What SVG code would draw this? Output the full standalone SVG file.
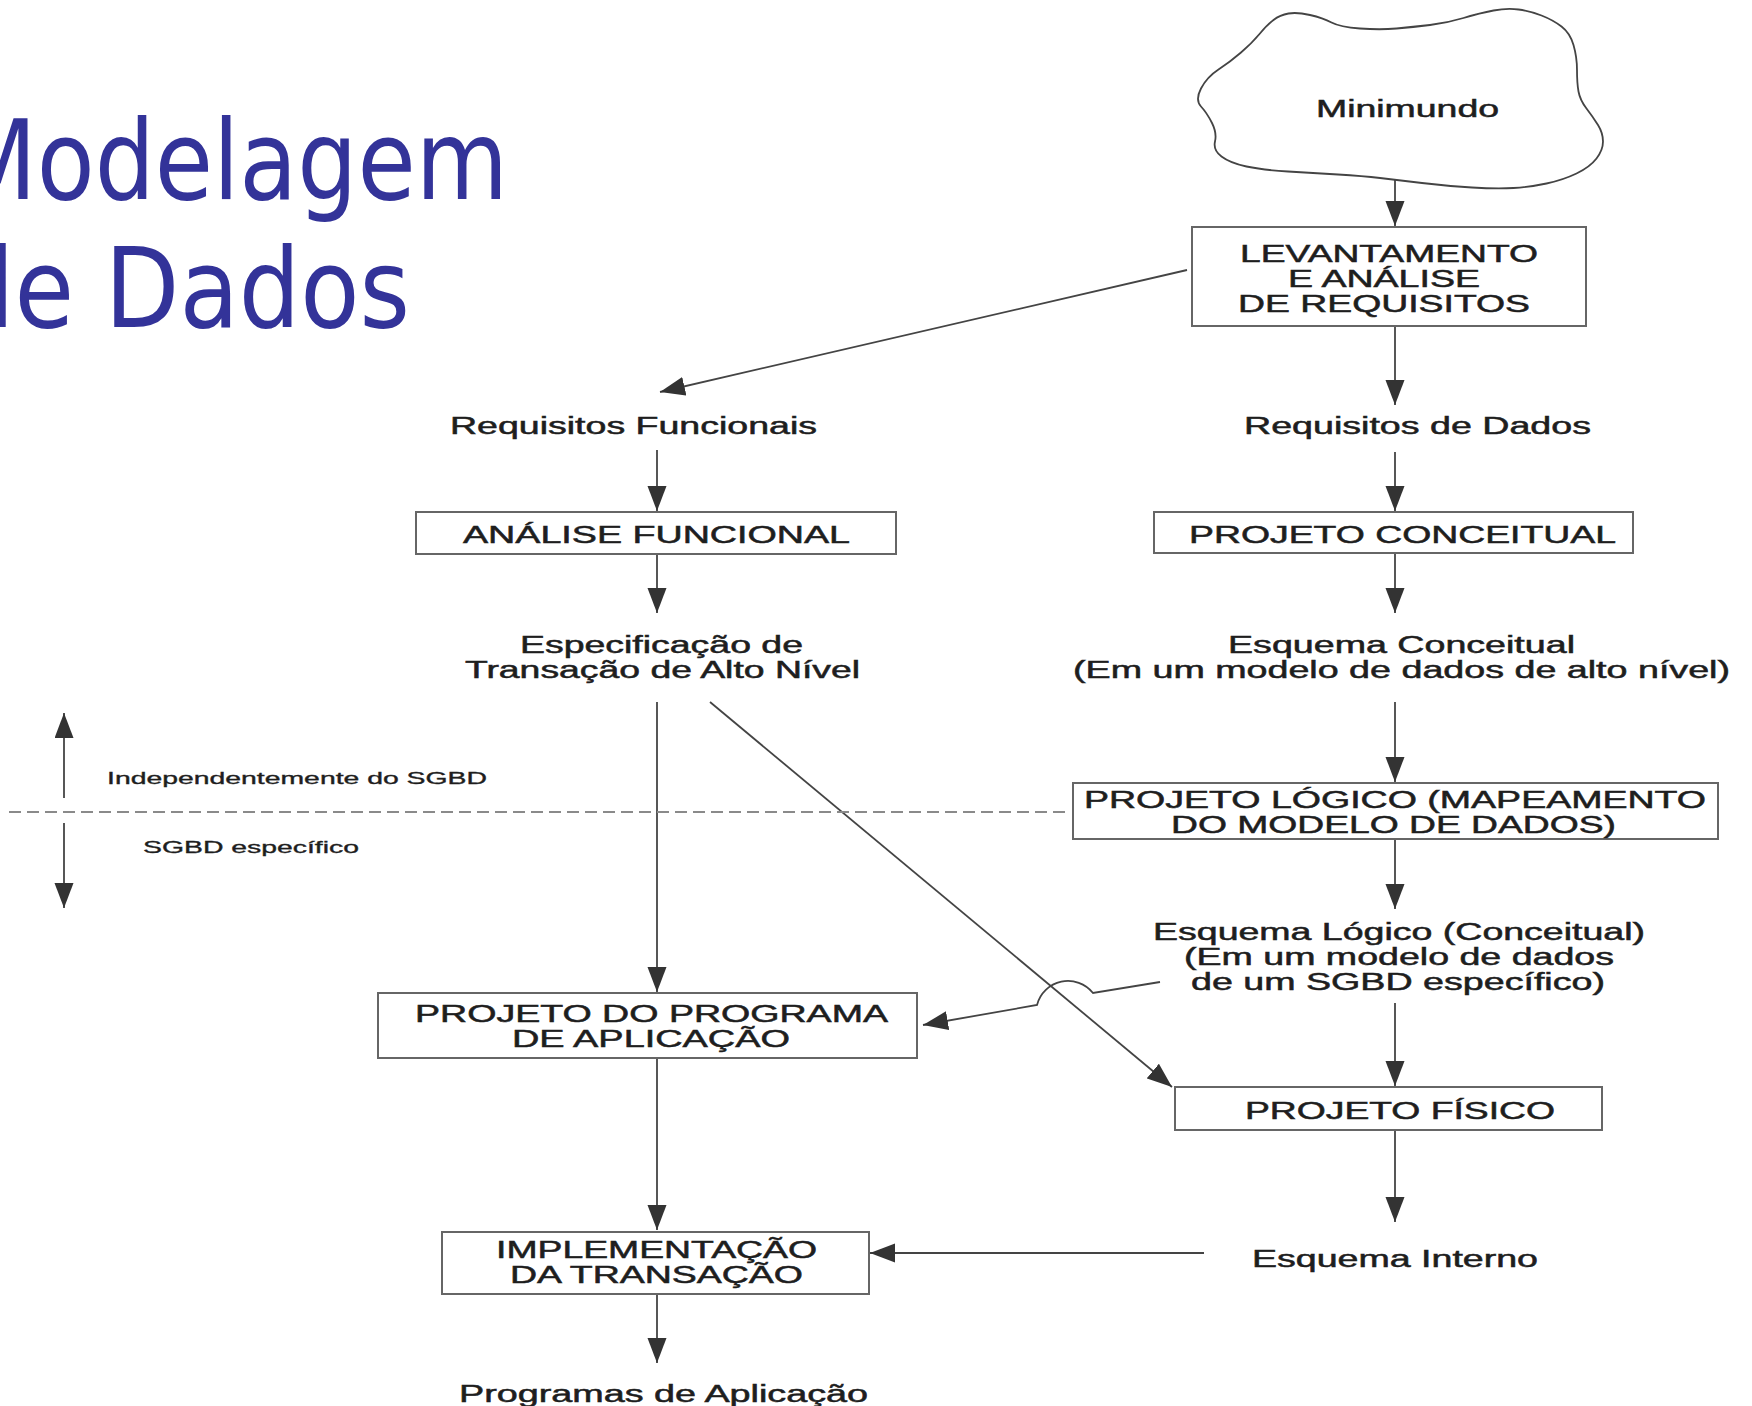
<svg xmlns="http://www.w3.org/2000/svg" width="1752" height="1406" viewBox="0 0 1752 1406">
<defs>
<style>
.t{font-family:"Liberation Sans",Arial,sans-serif;font-size:23px;fill:#1e1e1e;stroke:#1e1e1e;stroke-width:0.5px}
.s{font-family:"Liberation Sans",Arial,sans-serif;font-size:17px;fill:#1e1e1e;stroke:#1e1e1e;stroke-width:0.35px}
.title{font-family:"DejaVu Sans","Noto Sans",sans-serif;font-size:110px;fill:#333399}
.box{fill:#ffffff;stroke:#666666;stroke-width:2}
.c{fill:none;stroke:#444444;stroke-width:1.8}
.dash{fill:none;stroke:#8a8a8a;stroke-width:2;stroke-dasharray:12 6}
</style>
<marker id="ah" markerUnits="userSpaceOnUse" markerWidth="26" markerHeight="20" refX="25" refY="9.5" orient="auto">
<path d="M0,0 L25,9.5 L0,19 Z" fill="#333333"/>
</marker>
</defs>
<rect width="1752" height="1406" fill="#ffffff"/>

<g id="title">
<text class="title" x="-45" y="199" textLength="553" lengthAdjust="spacingAndGlyphs">Modelagem</text>
<text class="title" x="-47" y="327" textLength="457" lengthAdjust="spacingAndGlyphs">de Dados</text>
</g>

<g id="connectors">
<line class="c" x1="1395" y1="180" x2="1395" y2="226" marker-end="url(#ah)"/>
<line class="c" x1="1395" y1="326" x2="1395" y2="405" marker-end="url(#ah)"/>
<line class="c" x1="1187" y1="270" x2="660" y2="392" marker-end="url(#ah)"/>
<line class="c" x1="657" y1="450" x2="657" y2="511" marker-end="url(#ah)"/>
<line class="c" x1="657" y1="554" x2="657" y2="613" marker-end="url(#ah)"/>
<line class="c" x1="1395" y1="452" x2="1395" y2="511" marker-end="url(#ah)"/>
<line class="c" x1="1395" y1="553" x2="1395" y2="613" marker-end="url(#ah)"/>
<line class="c" x1="1395" y1="702" x2="1395" y2="782" marker-end="url(#ah)"/>
<line class="c" x1="1395" y1="839" x2="1395" y2="909" marker-end="url(#ah)"/>
<line class="c" x1="1395" y1="1003" x2="1395" y2="1086" marker-end="url(#ah)"/>
<line class="c" x1="1395" y1="1130" x2="1395" y2="1222" marker-end="url(#ah)"/>
<line class="c" x1="657" y1="702" x2="657" y2="992" marker-end="url(#ah)"/>
<line class="c" x1="710" y1="702" x2="1172" y2="1087" marker-end="url(#ah)"/>
<path class="c" d="M1160,982 L1093,993 A32,32 0 0 0 1037,1005 L923,1025" marker-end="url(#ah)"/>
<line class="c" x1="657" y1="1059" x2="657" y2="1230" marker-end="url(#ah)"/>
<line class="c" x1="1204" y1="1253" x2="870" y2="1253" marker-end="url(#ah)"/>
<line class="c" x1="657" y1="1294" x2="657" y2="1363" marker-end="url(#ah)"/>
<line class="c" x1="64" y1="798" x2="64" y2="713" marker-end="url(#ah)"/>
<line class="c" x1="64" y1="823" x2="64" y2="908" marker-end="url(#ah)"/>
<line class="dash" x1="9" y1="812" x2="1066" y2="812"/>
</g>

<g id="minimundo">
<path fill="#ffffff" stroke="#444444" stroke-width="1.8" d="M1201,106.5 Q1195,100 1201,88.5 Q1207,77 1218.5,69.5 Q1230,62 1241,52.5 Q1252,43 1259.5,34 Q1267,25 1273.5,20 Q1280,15 1288.5,13.5 Q1297,12 1310,15 Q1323,18 1331.5,22.5 Q1340,27 1360,28.5 Q1380,30 1396.5,28.5 Q1413,27 1430,25 Q1447,23 1463.5,18 Q1480,13 1493.5,10.5 Q1507,8 1518.5,9.5 Q1530,11 1541.5,15.5 Q1553,20 1561.5,26.5 Q1570,33 1573.5,45 Q1577,57 1577,70 Q1577,83 1578.5,91.5 Q1580,100 1586.5,108.5 Q1593,117 1598,125 Q1603,133 1603,141.5 Q1603,150 1596.5,158.5 Q1590,167 1576.5,173.5 Q1563,180 1546.5,183.5 Q1530,187 1513.5,188 Q1497,189 1472,187.5 Q1447,186 1422,183 Q1397,180 1380,178 Q1363,176 1338,174.5 Q1313,173 1288,171.5 Q1263,170 1246.5,166.5 Q1230,163 1221.5,156.5 Q1213,150 1215,141.5 Q1217,133 1212,123 Q1207,113 1201,106.5 Z"/>
<text class="t" x="1316" y="117" textLength="183" lengthAdjust="spacingAndGlyphs">Minimundo</text>
</g>

<g id="levantamento">
<rect class="box" x="1192" y="227" width="394" height="99"/>
<text class="t" x="1240" y="262" textLength="298" lengthAdjust="spacingAndGlyphs">LEVANTAMENTO</text>
<text class="t" x="1288" y="287" textLength="192" lengthAdjust="spacingAndGlyphs">E ANÁLISE</text>
<text class="t" x="1238" y="312" textLength="292" lengthAdjust="spacingAndGlyphs">DE REQUISITOS</text>
</g>

<g id="req-funcionais">
<text class="t" x="450" y="434" textLength="367" lengthAdjust="spacingAndGlyphs">Requisitos Funcionais</text>
</g>

<g id="req-dados">
<text class="t" x="1244" y="434" textLength="347" lengthAdjust="spacingAndGlyphs">Requisitos de Dados</text>
</g>

<g id="analise-funcional">
<rect class="box" x="416" y="512" width="480" height="42"/>
<text class="t" x="463" y="543" textLength="387" lengthAdjust="spacingAndGlyphs">ANÁLISE FUNCIONAL</text>
</g>

<g id="projeto-conceitual">
<rect class="box" x="1154" y="512" width="479" height="41"/>
<text class="t" x="1189" y="543" textLength="427" lengthAdjust="spacingAndGlyphs">PROJETO CONCEITUAL</text>
</g>

<g id="especificacao">
<text class="t" x="520" y="653" textLength="283" lengthAdjust="spacingAndGlyphs">Especificação de</text>
<text class="t" x="465" y="678" textLength="395" lengthAdjust="spacingAndGlyphs">Transação de Alto Nível</text>
</g>

<g id="esquema-conceitual">
<text class="t" x="1228" y="653" textLength="347" lengthAdjust="spacingAndGlyphs">Esquema Conceitual</text>
<text class="t" x="1073" y="678" textLength="657" lengthAdjust="spacingAndGlyphs">(Em um modelo de dados de alto nível)</text>
</g>

<g id="legenda">
<text class="s" x="107" y="784" textLength="380" lengthAdjust="spacingAndGlyphs">Independentemente do SGBD</text>
<text class="s" x="143" y="853" textLength="216" lengthAdjust="spacingAndGlyphs">SGBD específico</text>
</g>

<g id="projeto-logico">
<rect class="box" x="1073" y="783" width="645" height="56"/>
<text class="t" x="1084" y="808" textLength="622" lengthAdjust="spacingAndGlyphs">PROJETO LÓGICO (MAPEAMENTO</text>
<text class="t" x="1171" y="833" textLength="445" lengthAdjust="spacingAndGlyphs">DO MODELO DE DADOS)</text>
</g>

<g id="esquema-logico">
<text class="t" x="1153" y="940" textLength="492" lengthAdjust="spacingAndGlyphs">Esquema Lógico (Conceitual)</text>
<text class="t" x="1184" y="965" textLength="430" lengthAdjust="spacingAndGlyphs">(Em um modelo de dados</text>
<text class="t" x="1191" y="990" textLength="414" lengthAdjust="spacingAndGlyphs">de um SGBD específico)</text>
</g>

<g id="projeto-programa">
<rect class="box" x="378" y="993" width="539" height="65"/>
<text class="t" x="415" y="1022" textLength="473" lengthAdjust="spacingAndGlyphs">PROJETO DO PROGRAMA</text>
<text class="t" x="512" y="1047" textLength="278" lengthAdjust="spacingAndGlyphs">DE APLICAÇÃO</text>
</g>

<g id="projeto-fisico">
<rect class="box" x="1175" y="1087" width="427" height="43"/>
<text class="t" x="1245" y="1119" textLength="310" lengthAdjust="spacingAndGlyphs">PROJETO FÍSICO</text>
</g>

<g id="esquema-interno">
<text class="t" x="1252" y="1267" textLength="286" lengthAdjust="spacingAndGlyphs">Esquema Interno</text>
</g>

<g id="implementacao">
<rect class="box" x="442" y="1232" width="427" height="62"/>
<text class="t" x="496" y="1258" textLength="321" lengthAdjust="spacingAndGlyphs">IMPLEMENTAÇÃO</text>
<text class="t" x="510" y="1283" textLength="293" lengthAdjust="spacingAndGlyphs">DA TRANSAÇÃO</text>
</g>

<g id="programas">
<text class="t" x="459" y="1402" textLength="409" lengthAdjust="spacingAndGlyphs">Programas de Aplicação</text>
</g>
</svg>
